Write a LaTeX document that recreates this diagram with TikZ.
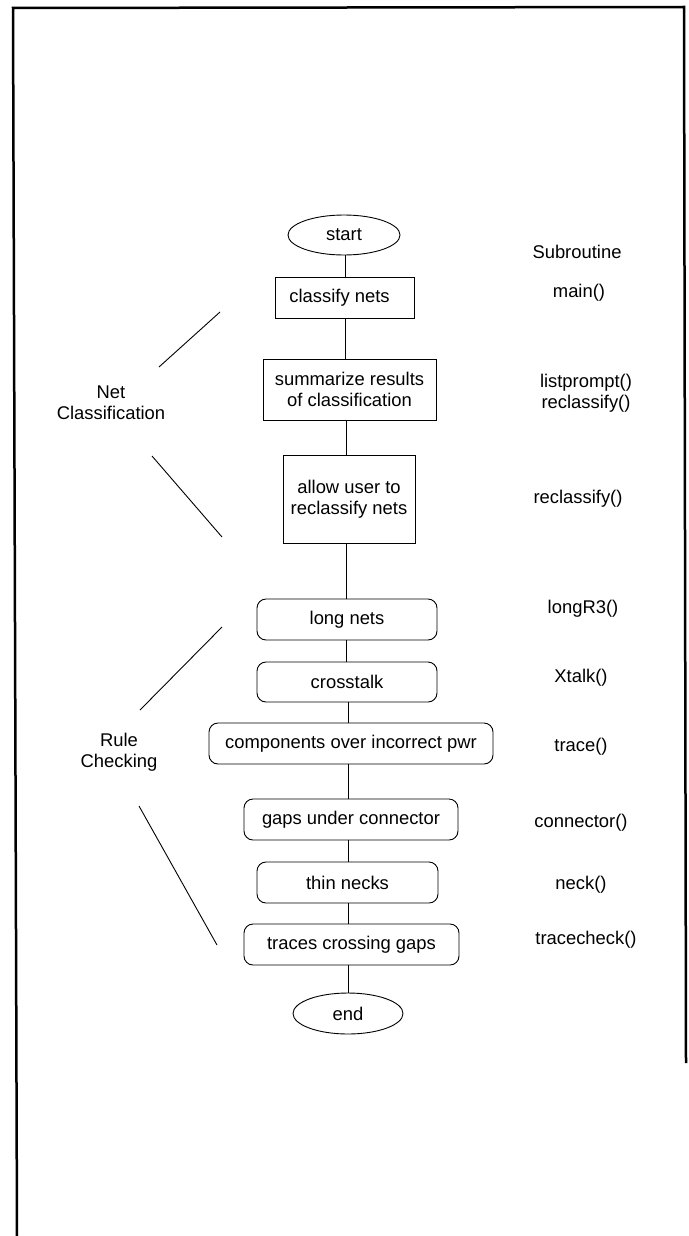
\documentclass[tikz,border=0pt]{standalone}
\usepackage{fontspec}
\setmainfont{Liberation Sans}
\usetikzlibrary{shapes.geometric}
\begin{document}
\begin{tikzpicture}[x=1pt,y=-1pt,
  every node/.style={font=\fontsize{18.4}{21}\selectfont},
  box/.style={draw, line width=0.9pt, inner sep=0pt, align=center},
  rbox/.style={draw, rounded corners=9pt, line width=0.9pt, inner sep=0pt, minimum height=41pt},
  term/.style={draw, ellipse, line width=0.9pt, inner sep=0pt},
  lbl/.style={align=center, inner sep=0pt},
  link/.style={line width=0.9pt},
  bracket/.style={line width=0.9pt},
  frame/.style={line width=2.5pt}]
\useasboundingbox (0,0) rectangle (688,1236);

% frame
\coordinate (fbl) at (17,1236);
\coordinate (ftl) at (13,8);
\coordinate (ftr) at (684,7);
\coordinate (fbr) at (686,1063);
\draw[frame] (fbl) -- (ftl) -- (ftr) -- (fbr);

% flow nodes
\node[term, minimum width=112pt, minimum height=40pt] (start) at (344,235) {start};
\node[box, minimum width=139pt, minimum height=41pt] (classify) at (344.5,297.5) {classify nets\hspace{10pt}};
\node[box, minimum width=173pt, minimum height=61pt] (summ) at (349.5,389.5) {summarize results\\of classification};
\node[box, minimum width=132pt, minimum height=88pt] (allow) at (349,499) {allow user to\\reclassify nets};
\node[rbox, minimum width=180pt] (long) at (347,619.5) {long nets\hspace{28pt}};
\node[rbox, minimum width=180pt, minimum height=40pt] (cross) at (347,682) {crosstalk\hspace{22pt}};
\node[rbox, minimum width=284pt] (comp) at (351,743.5) {components over incorrect pwr\hspace{10pt}};
\node[rbox, minimum width=214pt] (gaps) at (351,819.5) {gaps under connector};
\node[rbox, minimum width=181pt] (thin) at (347.5,882.5) {thin necks\hspace{12pt}};
\node[rbox, minimum width=215pt] (traces) at (351.5,944.5) {traces crossing gaps};
\node[term, minimum width=110pt, minimum height=41pt] (end) at (348,1013.5) {end};

% connectors (vertical, along the spine)
\coordinate (spa) at (345,0);
\coordinate (spb) at (346.5,0);
\coordinate (spc) at (348,0);
\draw[link] (spa |- start.south) -- (spa |- classify.north);
\draw[link] (spa |- classify.south) -- (spa |- summ.north);
\draw[link] (spb |- summ.south) -- (spb |- allow.north);
\draw[link] (spb |- allow.south) -- (spb |- long.north);
\draw[link] (spb |- long.south) -- (spb |- cross.north);
\draw[link] (spc |- cross.south) -- (spc |- comp.north);
\draw[link] (spc |- comp.south) -- (spc |- gaps.north);
\draw[link] (spc |- gaps.south) -- (spc |- thin.north);
\draw[link] (spc |- thin.south) -- (spc |- traces.north);
\draw[link] (spc |- traces.south) -- (spc |- end.north);

% subroutine column
\node[lbl] (sub) at (577,252) {Subroutine};
\node[lbl] (smain) at (579,293) {main()};
\node[lbl] (slist) at (586,393.5) {listprompt()\\reclassify()};
\node[lbl] (srecl) at (578,499) {reclassify()};
\node[lbl] (slong) at (583,609) {longR3()};
\node[lbl] (sxtalk) at (581,678) {Xtalk()};
\node[lbl] (strace) at (581,747) {trace()};
\node[lbl] (sconn) at (581,823) {connector()};
\node[lbl] (sneck) at (581,885) {neck()};
\node[lbl] (stc) at (586,940) {tracecheck()};

% group labels
\node[lbl] (netcl) at (111,402.5) {Net\\Classification};
\node[lbl] (rulech) at (119,752.5) {Rule\\Checking};

% group brackets
\coordinate (nca) at (159,367);
\coordinate (ncb) at (220,312);
\coordinate (ncc) at (152,456);
\coordinate (ncd) at (222,537);
\coordinate (rca) at (140,710);
\coordinate (rcb) at (222,627);
\coordinate (rcc) at (139,806);
\coordinate (rcd) at (217,945);
\draw[bracket] (nca) -- (ncb);
\draw[bracket] (ncc) -- (ncd);
\draw[bracket] (rca) -- (rcb);
\draw[bracket] (rcc) -- (rcd);
\end{tikzpicture}
\end{document}
